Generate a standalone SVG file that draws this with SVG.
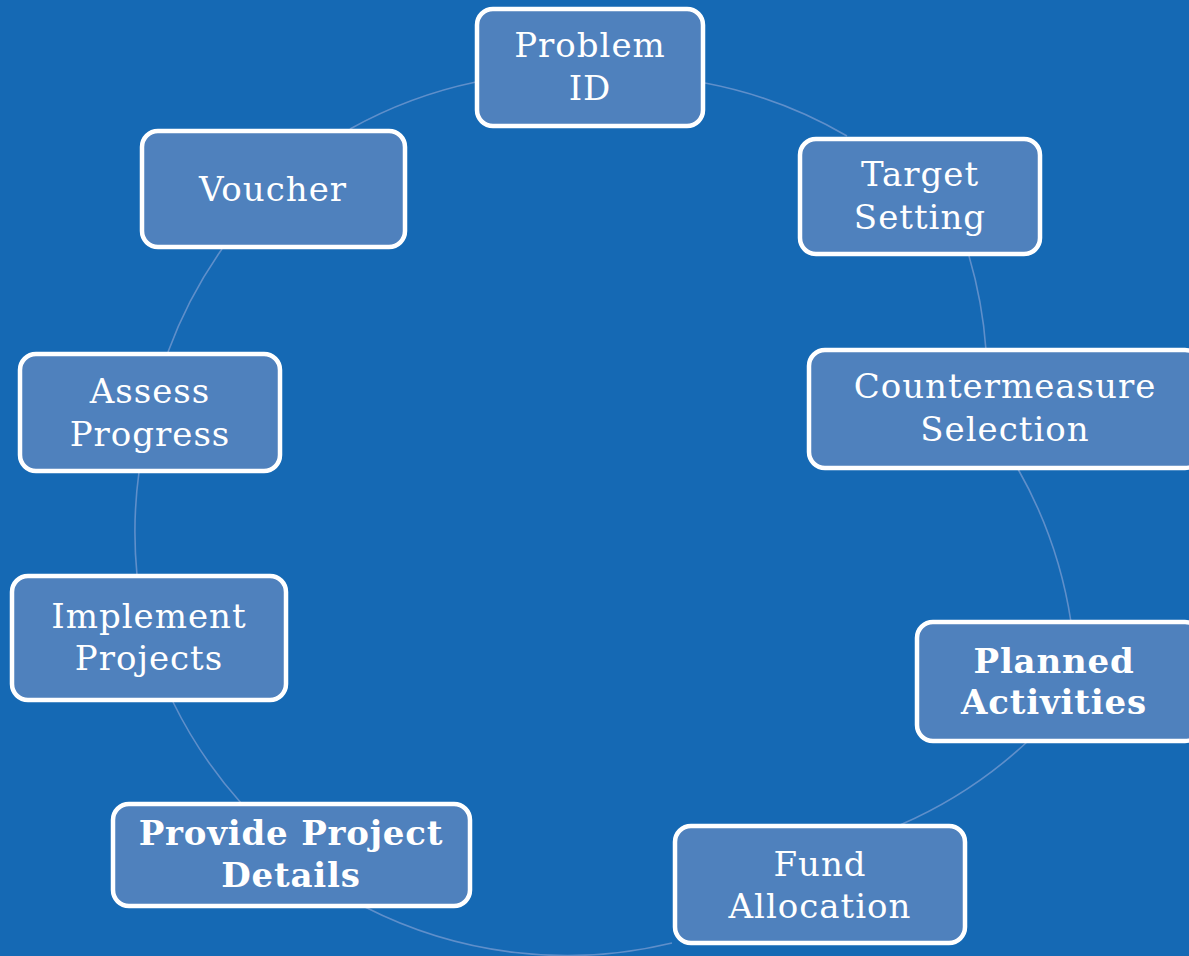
<svg xmlns="http://www.w3.org/2000/svg" width="1189" height="956" viewBox="0 0 1189 956">
<style>
.bg{fill:#1569b4}
.box{fill:#4f81bd;stroke:#ffffff;stroke-width:4.5}
.arc{fill:none;stroke:#5f8fca;stroke-width:1.6}
.t{font-family:"DejaVu Serif","Liberation Serif",serif;font-size:34px;letter-spacing:1px;fill:#ffffff;text-anchor:middle}
.b{font-weight:bold;letter-spacing:0.8px}
</style>
<rect class="bg" x="0" y="0" width="1189" height="956"/>
<g id="connectors">
<path class="arc" d="M705,83 A445,445 0 0 1 847,136"/>
<path class="arc" d="M969,256 A445,445 0 0 1 986,350"/>
<path class="arc" d="M1018,469 A445,445 0 0 1 1071,622"/>
<path class="arc" d="M1027,742 A445,445 0 0 1 900,825"/>
<path class="arc" d="M672,943 A445,445 0 0 1 365,907"/>
<path class="arc" d="M241,803 A445,445 0 0 1 173,702"/>
<path class="arc" d="M137,575 A445,445 0 0 1 139,472"/>
<path class="arc" d="M168,352 A445,445 0 0 1 222,249"/>
<path class="arc" d="M350,129 A445,445 0 0 1 476,82"/>
</g>
<g id="problem-id">
<rect class="box" x="477" y="9" width="226" height="117" rx="16"/>
<text class="t" x="590" y="57">Problem</text>
<text class="t" x="590" y="100">ID</text>
</g>
<g id="target-setting">
<rect class="box" x="800" y="139" width="240" height="115" rx="16"/>
<text class="t" x="920" y="186">Target</text>
<text class="t" x="920" y="229">Setting</text>
</g>
<g id="countermeasure-selection">
<rect class="box" x="809" y="350" width="392" height="118" rx="16"/>
<text class="t" x="1005" y="398">Countermeasure</text>
<text class="t" x="1005" y="441">Selection</text>
</g>
<g id="planned-activities">
<rect class="box" x="917" y="622" width="284" height="119" rx="16"/>
<text class="t b" x="1054" y="673">Planned</text>
<text class="t b" x="1054" y="714">Activities</text>
</g>
<g id="fund-allocation">
<rect class="box" x="675" y="826" width="290" height="117" rx="16"/>
<text class="t" x="820" y="876">Fund</text>
<text class="t" x="820" y="918">Allocation</text>
</g>
<g id="provide-project-details">
<rect class="box" x="113" y="804" width="357" height="102" rx="16"/>
<text class="t b" x="291" y="845">Provide Project</text>
<text class="t b" x="291" y="887">Details</text>
</g>
<g id="implement-projects">
<rect class="box" x="12" y="576" width="274" height="124" rx="16"/>
<text class="t" x="149" y="628">Implement</text>
<text class="t" x="149" y="670">Projects</text>
</g>
<g id="assess-progress">
<rect class="box" x="20" y="354" width="260" height="117" rx="16"/>
<text class="t" x="150" y="403">Assess</text>
<text class="t" x="150" y="446">Progress</text>
</g>
<g id="voucher">
<rect class="box" x="142" y="131" width="263" height="116" rx="16"/>
<text class="t" x="273" y="201">Voucher</text>
</g>
</svg>
